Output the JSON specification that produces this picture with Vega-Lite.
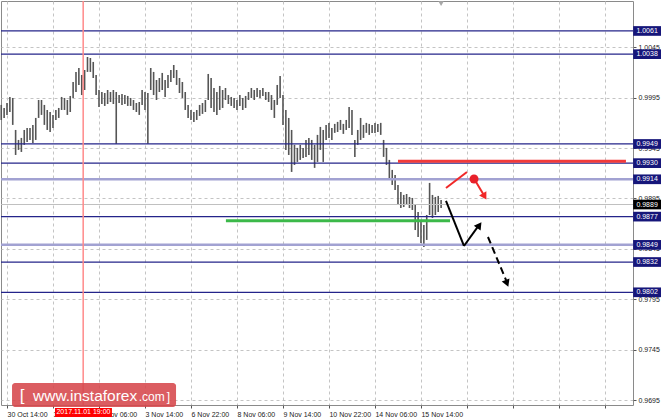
{
  "$schema": "https://vega.github.io/schema/vega-lite/v6.json",
  "width": 632,
  "height": 404,
  "autosize": {"type": "none"},
  "padding": {"left": 1, "top": 1, "right": 31, "bottom": 15},
  "background": "white",
  "config": {
    "view": {"stroke": "#8a8a8a", "strokeWidth": 1},
    "font": "Liberation Sans"
  },
  "datasets": {
    "one": [{}],
    "candles": [
      {"i":-4,"h":0.99877,"l":0.99728},{"i":-2,"h":0.99847,"l":0.99748},{"i":0,"h":0.99896,"l":0.99778},{"i":2,"h":0.99956,"l":0.99807},
      {"i":4,"h":0.99946,"l":0.99679},{"i":6,"h":0.99629,"l":0.99381},{"i":8,"h":0.9953,"l":0.99431},{"i":10,"h":0.9955,"l":0.99411},
      {"i":12,"h":0.99629,"l":0.99481},{"i":14,"h":0.99649,"l":0.9951},{"i":16,"h":0.99649,"l":0.9953},{"i":18,"h":0.99679,"l":0.995},
      {"i":20,"h":0.99748,"l":0.9953},{"i":22,"h":0.99926,"l":0.99748},{"i":24,"h":0.99926,"l":0.99778},{"i":26,"h":0.99877,"l":0.99679},
      {"i":28,"h":0.99827,"l":0.99629},{"i":30,"h":0.99807,"l":0.99609},{"i":32,"h":0.99778,"l":0.99649},{"i":34,"h":0.99827,"l":0.99728},
      {"i":36,"h":0.99847,"l":0.99748},{"i":38,"h":0.99956,"l":0.99827},{"i":40,"h":0.99946,"l":0.99827},{"i":42,"h":0.99926,"l":0.99778},
      {"i":44,"h":0.99966,"l":0.99807},{"i":46,"h":1.00104,"l":0.99946},{"i":48,"h":1.00204,"l":1.00005},{"i":50,"h":1.00243,"l":1.00075},
      {"i":52,"h":1.00174,"l":0.99975},{"i":54,"h":1.00223,"l":1.00025},{"i":56,"h":1.00352,"l":1.00204},{"i":58,"h":1.00342,"l":1.00204},
      {"i":60,"h":1.00303,"l":1.00144},{"i":62,"h":1.00174,"l":0.99975},{"i":64,"h":1.00025,"l":0.99857},{"i":66,"h":1.00005,"l":0.99886},
      {"i":68,"h":0.99995,"l":0.99867},{"i":70,"h":1.00025,"l":0.99886},{"i":72,"h":1.00005,"l":0.99906},{"i":74,"h":1.00025,"l":0.99886},
      {"i":76,"h":1.00005,"l":0.99491},{"i":78,"h":0.99975,"l":0.99896},{"i":80,"h":0.99985,"l":0.99877},{"i":82,"h":0.99975,"l":0.99886},
      {"i":84,"h":0.99966,"l":0.99867},{"i":86,"h":0.99946,"l":0.99867},{"i":88,"h":0.99926,"l":0.99827},{"i":90,"h":0.99896,"l":0.99807},
      {"i":92,"h":0.99906,"l":0.99778},{"i":94,"h":1.00025,"l":0.99877},{"i":96,"h":1.00005,"l":0.99827},{"i":98,"h":0.99995,"l":0.99491},
      {"i":100,"h":1.00243,"l":1.00025},{"i":102,"h":1.00204,"l":0.99975},{"i":104,"h":1.00124,"l":0.99926},{"i":106,"h":1.00144,"l":1.00005},
      {"i":108,"h":1.00194,"l":1.00025},{"i":110,"h":1.00124,"l":0.99956},{"i":112,"h":1.00174,"l":1.00045},{"i":114,"h":1.00223,"l":1.00104},
      {"i":116,"h":1.00273,"l":1.00144},{"i":118,"h":1.00223,"l":1.00075},{"i":120,"h":1.00144,"l":0.99995},{"i":122,"h":1.00104,"l":0.99946},
      {"i":124,"h":1.00005,"l":0.99827},{"i":126,"h":0.99877,"l":0.99748},{"i":128,"h":0.99827,"l":0.99728},{"i":130,"h":0.99807,"l":0.99709},
      {"i":132,"h":0.99827,"l":0.99728},{"i":134,"h":0.99877,"l":0.99768},{"i":136,"h":0.99896,"l":0.99788},{"i":138,"h":0.99926,"l":0.99807},
      {"i":140,"h":1.00184,"l":0.99926},{"i":142,"h":1.00144,"l":0.99847},{"i":144,"h":1.00045,"l":0.99807},{"i":146,"h":1.00005,"l":0.99778},
      {"i":148,"h":1.00065,"l":0.99827},{"i":150,"h":1.00025,"l":0.99847},{"i":152,"h":1.00045,"l":0.99926},{"i":154,"h":0.99975,"l":0.99886},
      {"i":156,"h":0.99956,"l":0.99867},{"i":158,"h":0.99946,"l":0.99847},{"i":160,"h":0.99926,"l":0.99827},{"i":162,"h":0.99975,"l":0.99867},
      {"i":164,"h":0.99946,"l":0.99827},{"i":166,"h":0.99966,"l":0.99847},{"i":168,"h":1.00005,"l":0.99926},{"i":170,"h":1.00045,"l":0.99946},
      {"i":172,"h":1.00025,"l":0.99926},{"i":174,"h":1.00045,"l":0.99956},{"i":176,"h":1.00025,"l":0.99946},{"i":178,"h":1.00045,"l":0.99966},
      {"i":180,"h":1.00005,"l":0.99926},{"i":182,"h":1.00005,"l":0.99906},{"i":184,"h":0.99975,"l":0.99827},{"i":186,"h":0.99926,"l":0.99748},
      {"i":188,"h":1.00075,"l":0.99877},{"i":190,"h":1.00164,"l":0.99946},{"i":192,"h":0.99975,"l":0.99679},{"i":194,"h":0.99827,"l":0.99431},
      {"i":196,"h":0.99748,"l":0.99381},{"i":198,"h":0.99629,"l":0.99213},{"i":200,"h":0.99481,"l":0.99282},{"i":202,"h":0.99451,"l":0.99312},
      {"i":204,"h":0.99481,"l":0.99332},{"i":206,"h":0.99451,"l":0.99352},{"i":208,"h":0.9953,"l":0.99362},{"i":210,"h":0.9955,"l":0.99381},
      {"i":212,"h":0.9953,"l":0.99332},{"i":214,"h":0.99481,"l":0.99253},{"i":216,"h":0.9958,"l":0.99312},{"i":218,"h":0.99659,"l":0.99431},
      {"i":220,"h":0.99629,"l":0.99312},{"i":222,"h":0.99679,"l":0.9953},{"i":224,"h":0.99699,"l":0.9955},{"i":226,"h":0.99649,"l":0.9953},
      {"i":228,"h":0.99689,"l":0.996},{"i":230,"h":0.99709,"l":0.99609},{"i":232,"h":0.99728,"l":0.99629},{"i":234,"h":0.99689,"l":0.9959},
      {"i":236,"h":0.99728,"l":0.99629},{"i":238,"h":0.99857,"l":0.99649},{"i":240,"h":0.99827,"l":0.9958},{"i":242,"h":0.9953,"l":0.99362},
      {"i":244,"h":0.99629,"l":0.99481},{"i":246,"h":0.99748,"l":0.9953},{"i":248,"h":0.99679,"l":0.9955},{"i":250,"h":0.99699,"l":0.996},
      {"i":252,"h":0.99689,"l":0.9958},{"i":254,"h":0.99679,"l":0.996},{"i":256,"h":0.99699,"l":0.996},{"i":258,"h":0.99689,"l":0.99609},
      {"i":260,"h":0.99699,"l":0.9958},{"i":262,"h":0.9953,"l":0.99362},{"i":264,"h":0.99451,"l":0.99282},{"i":266,"h":0.99332,"l":0.99133},
      {"i":268,"h":0.99233,"l":0.99084},{"i":270,"h":0.99183,"l":0.99034},{"i":272,"h":0.99084,"l":0.98885},{"i":274,"h":0.99014,"l":0.98855},
      {"i":276,"h":0.98985,"l":0.98865},{"i":278,"h":0.98994,"l":0.98885},{"i":280,"h":0.98965,"l":0.98855},{"i":282,"h":0.98955,"l":0.98836},
      {"i":284,"h":0.98885,"l":0.98637},{"i":286,"h":0.98816,"l":0.98568},{"i":288,"h":0.98717,"l":0.98509},{"i":290,"h":0.98687,"l":0.98469},
      {"i":292,"h":0.98786,"l":0.98539},{"i":294,"h":0.99104,"l":0.98786},{"i":296,"h":0.98985,"l":0.98756},{"i":298,"h":0.98965,"l":0.98786},
      {"i":300,"h":0.98975,"l":0.98816},{"i":302,"h":0.98935,"l":0.98855}
    ],
    "levels": [{"v":1.0061},{"v":1.0038},{"v":0.9949},{"v":0.993},{"v":0.9877},{"v":0.9832},{"v":0.9802}],
    "softLevels": [{"v":0.9914},{"v":0.9849}],
    "tags": [{"v":1.0061},{"v":1.0038},{"v":0.9949},{"v":0.993},{"v":0.9914},{"v":0.9877},{"v":0.9849},{"v":0.9832},{"v":0.9802}],
    "current": [{"v":0.9889}],
    "blackSolid": [
      {"x1":305.4,"y1":0.98925,"x2":317.9,"y2":0.98479},
      {"x1":317.9,"y1":0.98479,"x2":328.6,"y2":0.98690}
    ],
    "blackDashed": [{"x1":334.6,"y1":0.98568,"x2":347.2,"y2":0.98140}],
    "redArrow": [
      {"x1":305.4,"y1":0.99054,"x2":320.0,"y2":0.99213},
      {"x1":326.3,"y1":0.99113,"x2":331.5,"y2":0.98990}
    ]
  },
  "layer": [
    {
      "data": {"name": "candles"},
      "mark": {"type": "rule", "color": "#555555", "strokeWidth": 1.6},
      "encoding": {
        "x": {
          "field": "i", "type": "quantitative", "title": null,
          "scale": {"domain": [-4.17, 435.5], "nice": false, "zero": false},
          "axis": {
            "values": [0,16,32,48,64,80,96,112,128,144,160,176,192,208,224,240,256,272,288,304,320,336,352,368,384,400,416,432],
            "labelExpr": "datum.value % 32 == 0 && datum.value <= 288 ? ['30 Oct 14:00','31 Oct 22:00','2 Nov 06:00','3 Nov 14:00','6 Nov 22:00','8 Nov 06:00','9 Nov 14:00','10 Nov 22:00','14 Nov 06:00','15 Nov 14:00'][datum.value/32] : ''",
            "grid": true, "gridDash": [3, 3], "gridColor": "#c4c4c4", "gridWidth": 1,
            "domain": false, "tickColor": "#555", "tickSize": 3,
            "labelAlign": "left", "labelFontSize": 7, "labelColor": "#222", "labelPadding": 2,
            "labelFlush": false, "labelBound": false, "labelOverlap": false, "title": null
          }
        },
        "y": {
          "field": "h", "type": "quantitative", "title": null,
          "scale": {"domain": [0.96903, 1.00907], "nice": false, "zero": false},
          "axis": {
            "orient": "right",
            "values": [0.9695,0.972,0.9745,0.977,0.9795,0.982,0.9845,0.987,0.9895,0.992,0.9945,0.997,0.9995,1.002,1.0045,1.007],
            "format": ".4f",
            "grid": true, "gridDash": [3, 3], "gridColor": "#c4c4c4", "gridWidth": 1,
            "domain": false, "tickColor": "#555", "tickSize": 3,
            "labelFontSize": 7, "labelColor": "#222", "labelPadding": 2, "labelOverlap": false, "labelBound": false, "labelFlush": false,
            "title": null
          }
        },
        "y2": {"field": "l"}
      }
    },
    {
      "data": {"name": "current"},
      "mark": {"type": "rule", "color": "#c0c0c0", "strokeWidth": 1},
      "encoding": {"y": {"field": "v", "type": "quantitative", "title": null}}
    },
    {
      "data": {"name": "levels"},
      "mark": {"type": "rule", "color": "#24248a", "strokeWidth": 1.2},
      "encoding": {"y": {"field": "v", "type": "quantitative", "title": null}}
    },
    {
      "data": {"name": "softLevels"},
      "mark": {"type": "rule", "color": "#a2a2d2", "strokeWidth": 2.5},
      "encoding": {"y": {"field": "v", "type": "quantitative", "title": null}}
    },
    {
      "data": {"name": "one"},
      "mark": {"type": "rule", "color": "#ff8a8a", "strokeWidth": 1.5},
      "encoding": {"x": {"datum": 53, "type": "quantitative"}}
    },
    {
      "data": {"name": "one"},
      "mark": {"type": "rule", "color": "#3cb94a", "strokeWidth": 3},
      "encoding": {
        "x": {"datum": 152.3, "type": "quantitative"},
        "x2": {"datum": 308.2},
        "y": {"datum": 0.9873, "type": "quantitative"}
      }
    },
    {
      "data": {"name": "one"},
      "mark": {"type": "rule", "color": "#f23a3a", "strokeWidth": 3},
      "encoding": {
        "x": {"datum": 272, "type": "quantitative"},
        "x2": {"datum": 430.6},
        "y": {"datum": 0.9932, "type": "quantitative"}
      }
    },
    {
      "data": {"name": "blackSolid"},
      "mark": {"type": "rule", "color": "#000000", "strokeWidth": 2},
      "encoding": {
        "x": {"field": "x1", "type": "quantitative", "title": null},
        "x2": {"field": "x2"},
        "y": {"field": "y1", "type": "quantitative", "title": null},
        "y2": {"field": "y2"}
      }
    },
    {
      "data": {"name": "blackDashed"},
      "mark": {"type": "rule", "color": "#000000", "strokeWidth": 2, "strokeDash": [7, 4]},
      "encoding": {
        "x": {"field": "x1", "type": "quantitative", "title": null},
        "x2": {"field": "x2"},
        "y": {"field": "y1", "type": "quantitative", "title": null},
        "y2": {"field": "y2"}
      }
    },
    {
      "data": {"name": "redArrow"},
      "mark": {"type": "rule", "color": "#f02828", "strokeWidth": 2},
      "encoding": {
        "x": {"field": "x1", "type": "quantitative", "title": null},
        "x2": {"field": "x2"},
        "y": {"field": "y1", "type": "quantitative", "title": null},
        "y2": {"field": "y2"}
      }
    },
    {
      "data": {"name": "one"},
      "mark": {"type": "point", "shape": "triangle", "filled": true, "color": "#000000", "size": 70, "angle": 36, "opacity": 1},
      "encoding": {"x": {"datum": 328.1, "type": "quantitative"}, "y": {"datum": 0.98675, "type": "quantitative"}}
    },
    {
      "data": {"name": "one"},
      "mark": {"type": "point", "shape": "triangle", "filled": true, "color": "#000000", "size": 70, "angle": 158, "opacity": 1},
      "encoding": {"x": {"datum": 347.5, "type": "quantitative"}, "y": {"datum": 0.9812, "type": "quantitative"}}
    },
    {
      "data": {"name": "one"},
      "mark": {"type": "point", "shape": "triangle", "filled": true, "color": "#f02828", "size": 70, "angle": 150, "opacity": 1},
      "encoding": {"x": {"datum": 331.8, "type": "quantitative"}, "y": {"datum": 0.9898, "type": "quantitative"}}
    },
    {
      "data": {"name": "one"},
      "mark": {"type": "point", "shape": "circle", "filled": true, "color": "#e8202a", "size": 80, "opacity": 1},
      "encoding": {"x": {"datum": 324.9, "type": "quantitative"}, "y": {"datum": 0.99143, "type": "quantitative"}}
    },
    {
      "data": {"name": "one"},
      "mark": {"type": "point", "shape": "triangle-down", "filled": true, "color": "#a8a8a8", "size": 30, "opacity": 1},
      "encoding": {"x": {"datum": 302, "type": "quantitative"}, "y": {"datum": 1.0088, "type": "quantitative"}}
    },
    {
      "data": {"name": "tags"},
      "transform": [{"calculate": "datum.v + 0.00048", "as": "top"}, {"calculate": "datum.v - 0.00048", "as": "bot"}],
      "mark": {"type": "rect", "color": "#16167a"},
      "encoding": {
        "x": {"datum": 435.6, "type": "quantitative"},
        "x2": {"datum": 455},
        "y": {"field": "top", "type": "quantitative", "title": null},
        "y2": {"field": "bot"}
      }
    },
    {
      "data": {"name": "current"},
      "transform": [{"calculate": "datum.v + 0.00048", "as": "top"}, {"calculate": "datum.v - 0.00048", "as": "bot"}],
      "mark": {"type": "rect", "color": "#000000"},
      "encoding": {
        "x": {"datum": 435.6, "type": "quantitative"},
        "x2": {"datum": 455},
        "y": {"field": "top", "type": "quantitative", "title": null},
        "y2": {"field": "bot"}
      }
    },
    {
      "data": {"name": "tags"},
      "mark": {"type": "text", "color": "#ffffff", "fontSize": 7, "align": "center", "baseline": "middle"},
      "encoding": {
        "x": {"datum": 445.3, "type": "quantitative"},
        "y": {"field": "v", "type": "quantitative", "title": null},
        "text": {"field": "v", "type": "quantitative", "format": ".4f"}
      }
    },
    {
      "data": {"name": "current"},
      "mark": {"type": "text", "color": "#ffffff", "fontSize": 7, "align": "center", "baseline": "middle"},
      "encoding": {
        "x": {"datum": 445.3, "type": "quantitative"},
        "y": {"field": "v", "type": "quantitative", "title": null},
        "text": {"field": "v", "type": "quantitative", "format": ".4f"}
      }
    },
    {
      "data": {"name": "one"},
      "mark": {"type": "rect", "color": "#ff0000"},
      "encoding": {
        "x": {"datum": 33.4, "type": "quantitative"},
        "x2": {"datum": 73.0},
        "y": {"datum": 0.96874, "type": "quantitative"},
        "y2": {"datum": 0.96785}
      }
    },
    {
      "data": {"name": "one"},
      "mark": {"type": "text", "color": "#ffffff", "fontSize": 7, "align": "center", "baseline": "middle", "text": "2017.11.01 19:00"},
      "encoding": {
        "x": {"datum": 53.2, "type": "quantitative"},
        "y": {"datum": 0.96829, "type": "quantitative"}
      }
    },
    {
      "data": {"name": "one"},
      "mark": {"type": "rect", "color": "#d6474b", "opacity": 0.88, "cornerRadius": 3},
      "encoding": {
        "x": {"datum": 3.5, "type": "quantitative"},
        "x2": {"datum": 117.6},
        "y": {"datum": 0.97121, "type": "quantitative"},
        "y2": {"datum": 0.96884}
      }
    },
    {
      "data": {"name": "one"},
      "mark": {"type": "text", "color": "#ffffff", "fontSize": 17, "align": "left", "baseline": "alphabetic", "text": "["},
      "encoding": {"x": {"datum": 8.8, "type": "quantitative"}, "y": {"datum": 0.96943, "type": "quantitative"}}
    },
    {
      "data": {"name": "one"},
      "mark": {"type": "text", "color": "#ffffff", "fontSize": 15.5, "align": "left", "baseline": "alphabetic", "text": "www.instaforex"},
      "encoding": {"x": {"datum": 18.1, "type": "quantitative"}, "y": {"datum": 0.96943, "type": "quantitative"}}
    },
    {
      "data": {"name": "one"},
      "mark": {"type": "text", "color": "#ffffff", "fontSize": 12, "align": "left", "baseline": "alphabetic", "text": ".com"},
      "encoding": {"x": {"datum": 91.6, "type": "quantitative"}, "y": {"datum": 0.96943, "type": "quantitative"}}
    },
    {
      "data": {"name": "one"},
      "mark": {"type": "text", "color": "#ffffff", "fontSize": 12, "align": "left", "baseline": "alphabetic", "text": "]"},
      "encoding": {"x": {"datum": 111.2, "type": "quantitative"}, "y": {"datum": 0.96943, "type": "quantitative"}}
    }
  ]
}
